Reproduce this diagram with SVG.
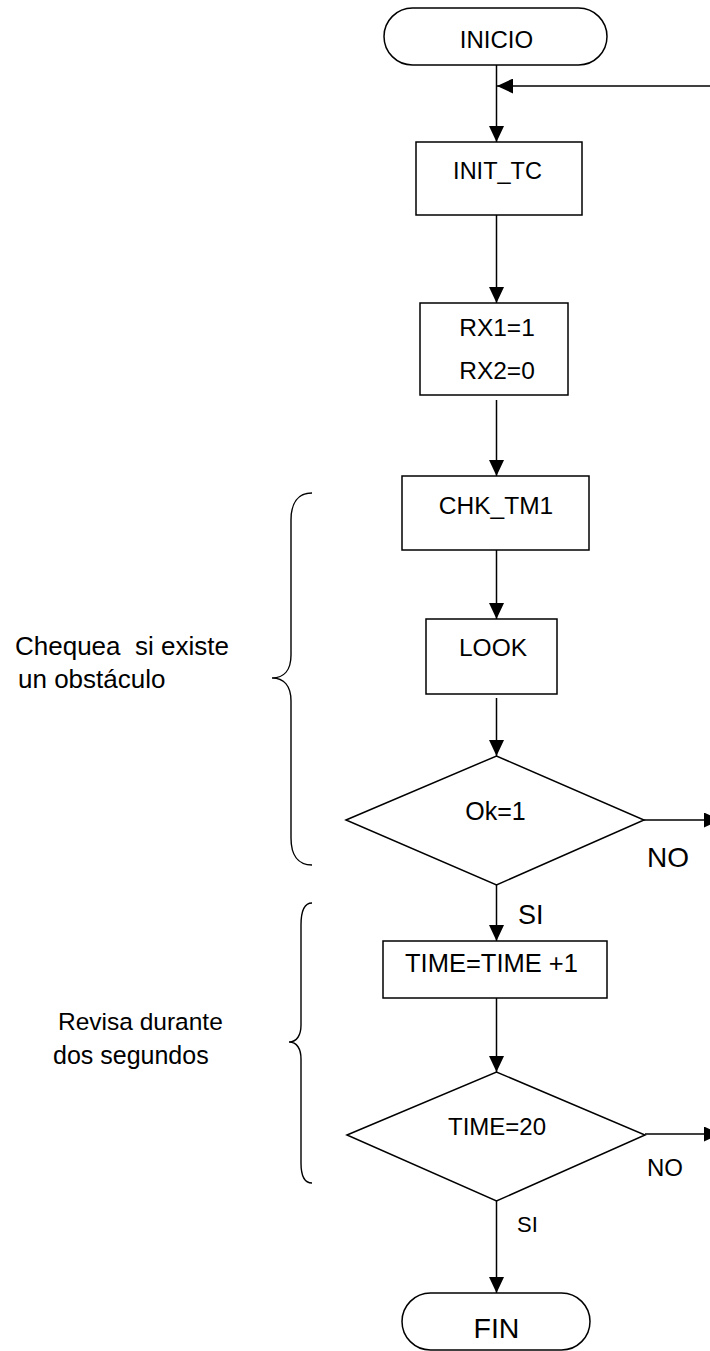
<svg xmlns="http://www.w3.org/2000/svg" width="710" height="1351" viewBox="0 0 710 1351">
<style>
.shape{fill:#fff;stroke:#000;stroke-width:1.5}
.line{fill:none;stroke:#000;stroke-width:1.5}
.brace{fill:none;stroke:#000;stroke-width:1.4}
text{font-family:"Liberation Sans",Arial,sans-serif;fill:#000}
.c{text-anchor:middle}
</style>
<defs>
<marker id="arr" markerUnits="userSpaceOnUse" viewBox="0 0 16 15" refX="16" refY="7.5" markerWidth="16" markerHeight="15" orient="auto">
<path d="M0,0 L16,7.5 L0,15 z" fill="#000"/>
</marker>
</defs>
<rect width="710" height="1351" fill="#fff"/>
<g id="connectors">
<line class="line" x1="496.5" y1="65" x2="496.5" y2="142" marker-end="url(#arr)"/>
<line class="line" x1="710" y1="86" x2="497" y2="86" marker-end="url(#arr)"/>
<line class="line" x1="496.5" y1="215" x2="496.5" y2="303" marker-end="url(#arr)"/>
<line class="line" x1="496.5" y1="400" x2="496.5" y2="476" marker-end="url(#arr)"/>
<line class="line" x1="496.5" y1="550" x2="496.5" y2="619" marker-end="url(#arr)"/>
<line class="line" x1="496.5" y1="698" x2="496.5" y2="756" marker-end="url(#arr)"/>
<line class="line" x1="644" y1="820" x2="720" y2="820" marker-end="url(#arr)"/>
<line class="line" x1="496.5" y1="885" x2="496.5" y2="941" marker-end="url(#arr)"/>
<line class="line" x1="496.5" y1="998" x2="496.5" y2="1072" marker-end="url(#arr)"/>
<line class="line" x1="645" y1="1134" x2="720" y2="1134" marker-end="url(#arr)"/>
<line class="line" x1="496.5" y1="1201" x2="496.5" y2="1293" marker-end="url(#arr)"/>
</g>
<g id="inicio">
<rect class="shape" x="384" y="8" width="223" height="57" rx="28.5" ry="28.5"/>
<text class="c" x="496.5" y="48" font-size="24">INICIO</text>
</g>
<g id="init_tc">
<rect class="shape" x="416" y="142" width="166" height="73"/>
<text class="c" x="497.5" y="179" font-size="23.5">INIT_TC</text>
</g>
<g id="rx">
<rect class="shape" x="420" y="303" width="148" height="92"/>
<text class="c" x="497" y="336" font-size="24.5">RX1=1</text>
<text class="c" x="497" y="379" font-size="24.5">RX2=0</text>
</g>
<g id="chk_tm1">
<rect class="shape" x="402" y="476" width="187" height="74"/>
<text class="c" x="496" y="514" font-size="24.5">CHK_TM1</text>
</g>
<g id="look">
<rect class="shape" x="426" y="619" width="131" height="75"/>
<text class="c" x="493" y="656" font-size="24.5">LOOK</text>
</g>
<g id="ok">
<polygon class="shape" points="346,820 496.5,756 644,820 496.5,885"/>
<text class="c" x="495.5" y="820" font-size="25">Ok=1</text>
<text x="647" y="867" font-size="28">NO</text>
<text x="518" y="924" font-size="27">SI</text>
</g>
<g id="time_inc">
<rect class="shape" x="383" y="941" width="224" height="57"/>
<text x="405" y="972" font-size="25.5">TIME=TIME +1</text>
</g>
<g id="time20">
<polygon class="shape" points="347,1135 496.5,1072 645,1135 496.5,1201"/>
<text class="c" x="497" y="1135" font-size="24">TIME=20</text>
<text x="647" y="1176" font-size="24">NO</text>
<text x="517" y="1232" font-size="22">SI</text>
</g>
<g id="fin">
<rect class="shape" x="402" y="1293" width="188" height="57" rx="28.5" ry="28.5"/>
<text class="c" x="496.5" y="1338" font-size="28.5">FIN</text>
</g>
<g id="brace1">
<path class="brace" d="M312,493 C298,493 291,503 291,520 L291,655 C291,670 284,678 272,678 C284,678 291,686 291,701 L291,838 C291,855 298,865 312,865"/>
<text x="15" y="655" font-size="26" xml:space="preserve">Chequea  si existe</text>
<text x="18" y="688" font-size="26">un obstáculo</text>
</g>
<g id="brace2">
<path class="brace" d="M312,903 C305,903 301,910 301,925 L301,1025 C301,1035 297,1042 289,1042 C297,1042 301,1049 301,1059 L301,1163 C301,1176 305,1183 312,1183"/>
<text x="58" y="1030" font-size="24.5">Revisa durante</text>
<text x="53" y="1064" font-size="25">dos segundos</text>
</g>
</svg>
